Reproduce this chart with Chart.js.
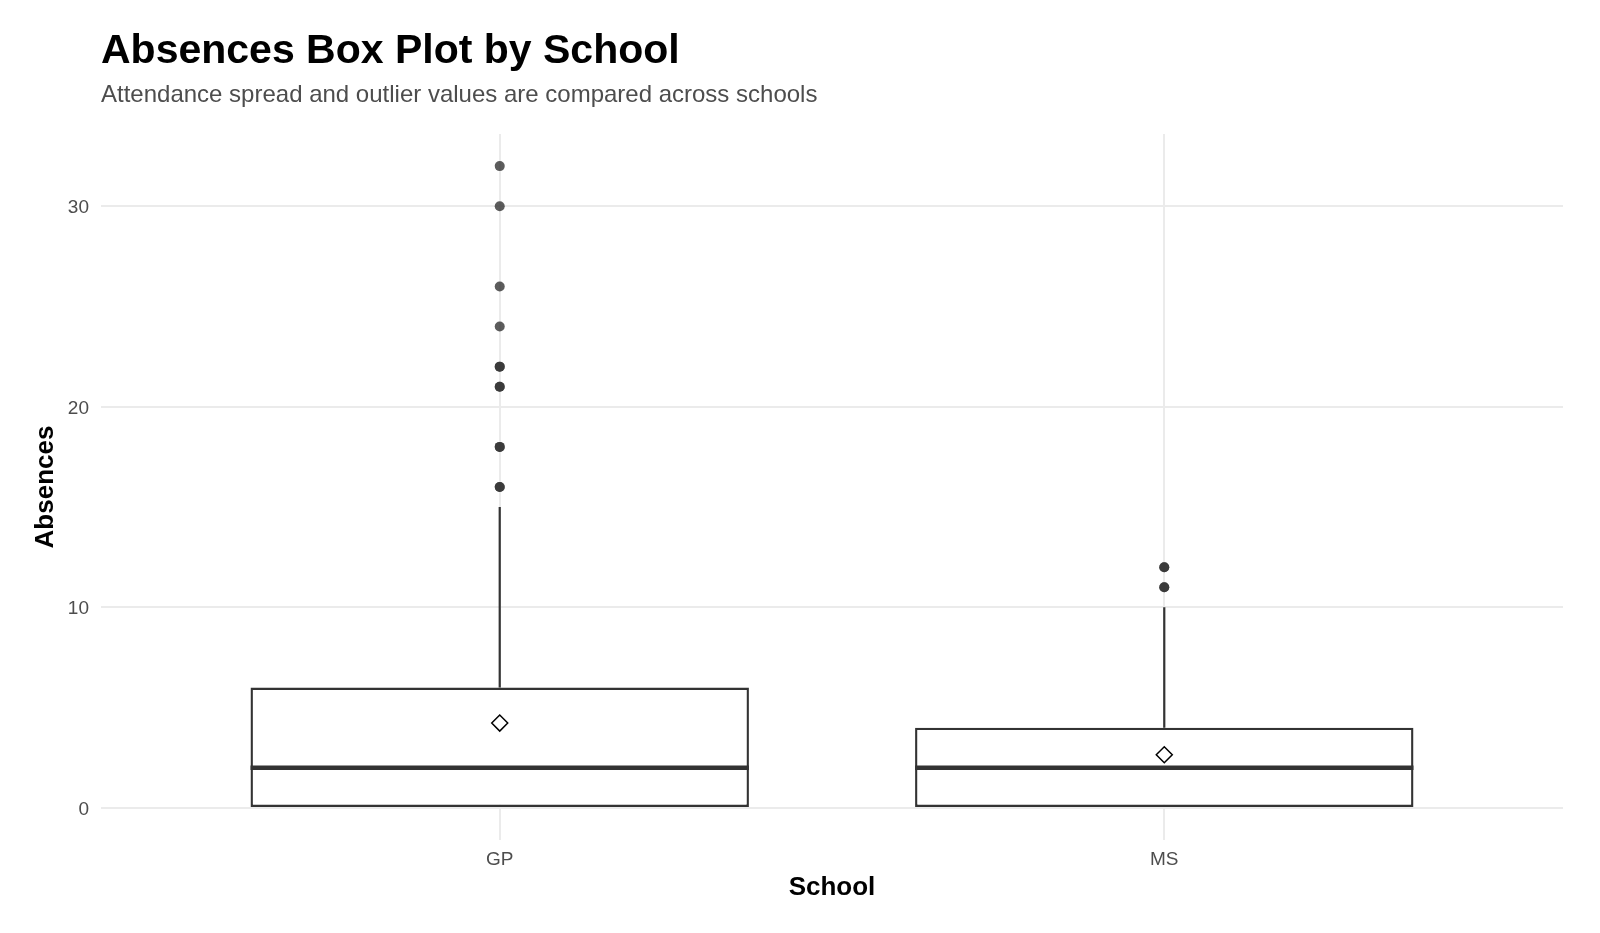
<!DOCTYPE html>
<html lang="en">
<head>
    <meta charset="UTF-8">
    <title>Absences Box Plot by School</title>
    <script src="https://cdn.jsdelivr.net/npm/chart.js"></script>
    <style>
body {
  margin: 0;
  padding: 0;
  background-color: #fff;
  overflow: hidden;
}

#chartContainer {
  position: relative;
  width: 1600px;
  height: 933px;
}
    </style>
</head>
<body>
    <div id="chartContainer">
        <canvas id="boxChart"></canvas>
    </div>

    <script>
        // box plot statistics per school
        const schools = ['GP', 'MS'];
        const lowerWhisker = [0, 0];
        const q1 = [0, 0];
        const medians = [2, 2];
        const q3 = [6, 4];
        const upperWhisker = [15, 10];
        const means = [4.23, 2.65];
        // outliers (repeated values overlap and look darker)
        const outliersGP = [16, 16, 18, 18, 21, 21, 22, 22, 24, 26, 30, 32];
        const outliersMS = [11, 11, 12, 12];
        const yTicks = [0, 10, 20, 30];

        const outliers = [outliersGP, outliersMS];
        const BOX_WIDTH = 0.75;
        const ink = '#333333';

        // schools sit at x = 1, 2 on a linear axis
        const xPos = schools.map((s, i) => i + 1);

        const boxData = xPos.map((x, i) => ({ x: x, y: [q1[i], q3[i]] }));

        const whiskerData = [];
        xPos.forEach((x, i) => {
            whiskerData.push({ x: x, y: q3[i] }, { x: x, y: upperWhisker[i] }, { x: x, y: null });
            whiskerData.push({ x: x, y: q1[i] }, { x: x, y: lowerWhisker[i] }, { x: x + 0.5, y: null });
        });

        const medianData = [];
        xPos.forEach((x, i) => {
            medianData.push({ x: x - BOX_WIDTH / 2, y: medians[i] }, { x: x + BOX_WIDTH / 2, y: medians[i] }, { x: x + 0.5, y: null });
        });

        const outlierData = [];
        xPos.forEach((x, i) => {
            outliers[i].forEach(v => outlierData.push({ x: x, y: v }));
        });

        const meanData = xPos.map((x, i) => ({ x: x, y: means[i] }));

        Chart.defaults.font.family = "'Liberation Sans', Arial, sans-serif";
        Chart.defaults.color = '#4d4d4d';

        var ctx = document.getElementById('boxChart').getContext('2d');
        var boxChart = new Chart(ctx, {
            type: 'bar',
            data: {
                datasets: [
                    {
                        type: 'scatter',
                        label: 'Mean',
                        data: meanData,
                        pointStyle: 'rectRot',
                        pointRadius: 8,
                        pointBackgroundColor: '#ffffff',
                        pointBorderColor: '#000000',
                        pointBorderWidth: 1.5
                    },
                    {
                        type: 'scatter',
                        label: 'Outliers',
                        data: outlierData,
                        pointRadius: 5,
                        pointBackgroundColor: 'rgba(51, 51, 51, 0.8)',
                        pointBorderWidth: 0
                    },
                    {
                        type: 'line',
                        label: 'Median',
                        data: medianData,
                        borderColor: ink,
                        borderWidth: 4.4,
                        pointRadius: 0,
                        spanGaps: false
                    },
                    {
                        type: 'line',
                        label: 'Whiskers',
                        data: whiskerData,
                        borderColor: ink,
                        borderWidth: 2.2,
                        pointRadius: 0,
                        spanGaps: false
                    },
                    {
                        type: 'bar',
                        label: 'IQR',
                        data: boxData,
                        backgroundColor: '#ffffff',
                        borderColor: ink,
                        borderWidth: 2.4,
                        borderSkipped: false,
                        categoryPercentage: 1,
                        barPercentage: BOX_WIDTH
                    }
                ]
            },
            options: {
                responsive: true,
                maintainAspectRatio: false,
                animation: false,
                layout: {
                    padding: { left: 0, right: 37, top: 0, bottom: 0 }
                },
                plugins: {
                    legend: { display: false },
                    tooltip: { enabled: false },
                    title: {
                        display: true,
                        text: 'Absences Box Plot by School',
                        align: 'start',
                        fullSize: false,
                        color: '#000000',
                        font: { size: 41, weight: 'bold' },
                        padding: { top: 27.5, bottom: 4.6 }
                    },
                    subtitle: {
                        display: true,
                        text: 'Attendance spread and outlier values are compared across schools',
                        align: 'start',
                        fullSize: false,
                        color: '#4d4d4d',
                        font: { size: 24 },
                        padding: { top: 0, bottom: 23.9 }
                    }
                },
                scales: {
                    x: {
                        type: 'linear',
                        min: 0.4,
                        max: 2.6,
                        offset: false,
                        afterBuildTicks: function(scale) {
                            scale.ticks = xPos.map(v => ({ value: v }));
                        },
                        afterFit: function(scale) {
                            scale.height = 93;
                        },
                        ticks: {
                            color: '#4d4d4d',
                            font: { size: 19 },
                            padding: 8.5,
                            callback: function(value) {
                                return schools[value - 1];
                            }
                        },
                        grid: {
                            offset: false,
                            color: '#ebebeb',
                            lineWidth: 2,
                            drawTicks: false
                        },
                        border: { display: false },
                        title: {
                            display: true,
                            text: 'School',
                            color: '#000000',
                            font: { size: 26, weight: 'bold' },
                            padding: { top: 0, bottom: 29.4 }
                        }
                    },
                    y: {
                        min: -1.6,
                        max: 33.6,
                        afterBuildTicks: function(scale) {
                            scale.ticks = yTicks.map(v => ({ value: v }));
                        },
                        afterFit: function(scale) {
                            scale.width = 101;
                        },
                        ticks: {
                            color: '#4d4d4d',
                            font: { size: 19 },
                            padding: 12,
                            labelOffset: 1.5
                        },
                        grid: {
                            color: '#ebebeb',
                            lineWidth: 2,
                            drawTicks: false
                        },
                        border: { display: false },
                        title: {
                            display: true,
                            text: 'Absences',
                            color: '#000000',
                            font: { size: 26, weight: 'bold' },
                            padding: { top: 30.2, bottom: 0 }
                        }
                    }
                }
            }
        });
    </script>
</body>
</html>
